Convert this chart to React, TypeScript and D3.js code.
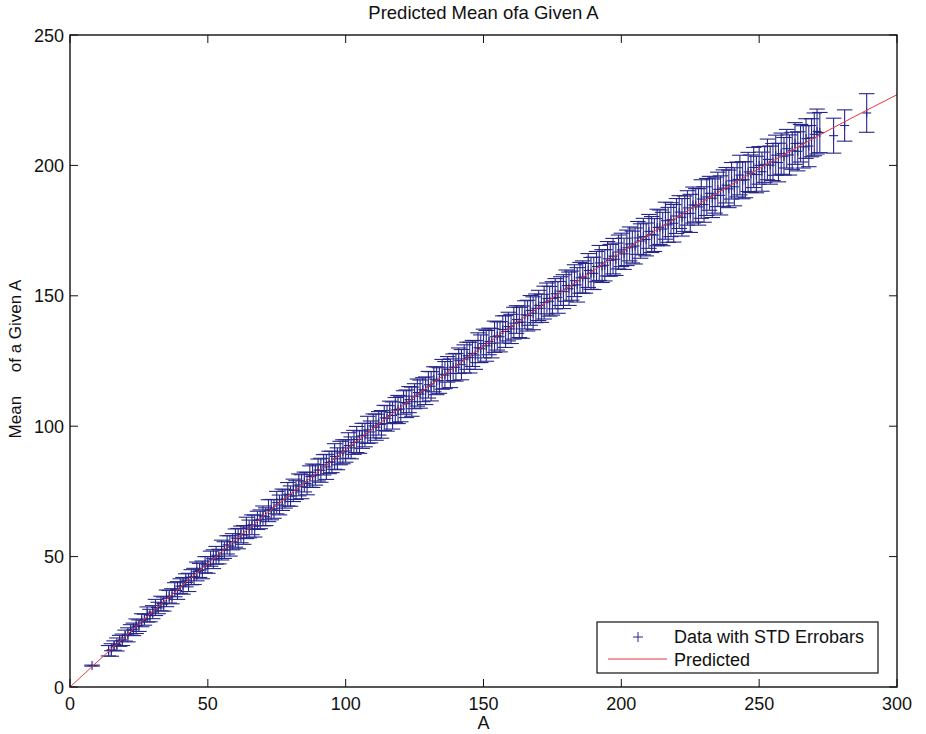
import React from 'react'
import * as d3 from 'd3'

// x (A) and y tick values
const xTicks = [0, 50, 100, 150, 200, 250, 300]
const yTicks = [0, 50, 100, 150, 200, 250]

// dense block of observations, one per integer A from 14 to 272
const denseA = d3.range(14, 273)
const denseMean = [
  13.9, 14.2, 15.9, 16.3, 17.7, 18.1,
  19.7, 20.0, 21.9, 22.1, 23.3, 23.5, 25.6, 25.8, 27.8, 27.4,
  28.7, 30.5, 30.3, 32.0, 31.8, 34.0, 34.6, 34.8, 37.3, 37.0,
  38.7, 38.8, 40.9, 40.1, 42.1, 42.4, 44.3, 44.7, 44.9, 46.9,
  46.8, 49.2, 49.0, 50.5, 50.0, 52.5, 52.5, 54.5, 54.1, 55.7,
  57.1, 56.9, 58.5, 58.3, 61.0, 60.6, 62.2, 61.7, 63.9, 64.3,
  65.6, 65.3, 67.6, 68.0, 68.3, 70.7, 69.8, 71.8, 72.1, 73.9,
  73.2, 75.4, 75.5, 77.5, 76.8, 78.6, 78.0, 80.7, 81.0, 81.3,
  83.2, 83.1, 85.2, 84.4, 86.1, 86.3, 88.4, 87.5, 89.7, 90.2,
  90.5, 92.6, 91.7, 93.8, 94.9, 93.9, 96.3, 96.6, 98.6, 97.8,
  100.1, 99.6, 101.1, 100.7, 103.2, 103.0, 105.3, 104.1, 106.2, 106.4,
  106.6, 109.1, 108.6, 110.2, 109.4, 111.5, 112.9, 112.3, 114.0, 113.6,
  115.9, 115.3, 118.0, 117.4, 117.5, 119.9, 119.6, 121.8, 120.3, 122.6,
  122.6, 125.1, 123.6, 125.8, 127.0, 126.3, 127.9, 127.3, 130.1, 129.7,
  131.7, 130.8, 132.5, 131.8, 134.3, 134.6, 134.3, 137.1, 136.3, 138.2,
  137.3, 139.5, 140.9, 139.8, 139.9, 142.7, 142.4, 144.4, 143.3, 145.2,
  146.3, 145.2, 147.4, 149.0, 147.9, 149.0, 150.8, 149.4, 151.8, 151.6,
  153.9, 152.7, 153.9, 155.8, 154.2, 156.9, 157.2, 156.7, 159.7, 158.6,
  158.6, 161.2, 162.6, 161.4, 161.7, 164.2, 163.6, 165.2, 164.0, 166.8,
  167.6, 166.1, 168.4, 169.9, 168.7, 169.1, 172.2, 171.0, 172.7, 171.6,
  174.7, 173.5, 173.3, 176.2, 176.3, 175.6, 178.8, 177.2, 179.2, 177.8,
  180.6, 182.1, 180.1, 181.5, 183.7, 181.6, 184.8, 184.7, 184.1, 187.1,
  185.0, 187.9, 189.3, 187.4, 188.6, 190.8, 188.5, 191.3, 192.4, 191.0,
  194.1, 191.8, 194.6, 196.3, 194.3, 194.5, 197.5, 196.8, 199.2, 196.5,
  200.0, 197.6, 200.4, 202.3, 200.1, 201.3, 203.9, 201.1, 204.5, 203.5,
  206.4, 204.0, 205.6, 208.4, 205.4, 208.5, 207.1, 210.3, 207.4, 210.6, 211.9, 213.0, 212.6,
]
const denseStd = [
  2.0, 2.4, 1.8, 2.5, 2.1, 2.2,
  2.1, 2.7, 2.0, 2.4, 2.8, 2.2, 2.5, 2.1, 2.9, 2.4,
  2.5, 3.1, 2.2, 2.8, 2.7, 3.2, 2.4, 2.9, 2.7, 3.4,
  2.8, 3.2, 2.5, 3.5, 2.9, 3.1, 3.6, 2.7, 3.4, 3.1,
  3.2, 2.9, 3.6, 3.4, 2.8, 3.8, 3.2, 3.5, 3.9, 3.1,
  3.5, 3.9, 3.2, 3.6, 4.1, 3.4, 3.8, 4.2, 3.5, 3.6,
  3.8, 3.4, 4.2, 3.9, 3.6, 4.3, 3.8, 4.1, 3.5, 4.5,
  3.9, 4.3, 3.6, 4.2, 4.6, 3.8, 4.3, 4.1, 4.5, 3.9,
  4.2, 4.6, 3.9, 4.8, 4.3, 4.1, 4.9, 4.2, 4.5, 4.6,
  4.3, 4.9, 4.2, 4.6, 5.0, 4.3, 4.8, 4.5, 5.2, 4.2,
  4.6, 5.0, 4.5, 5.3, 4.8, 4.9, 4.3, 5.2, 4.8, 5.4,
  4.9, 4.5, 5.3, 5.0, 5.6, 4.8, 5.2, 5.4, 4.6, 5.3,
  5.1, 5.6, 4.8, 5.3, 4.9, 5.7, 5.2, 4.9, 5.5, 5.1,
  5.3, 4.9, 5.8, 5.4, 5.2, 5.9, 5.0, 5.5, 5.7, 5.3,
  5.5, 5.9, 5.1, 5.6, 6.0, 5.4, 5.8, 5.2, 6.1, 5.5,
  5.6, 6.1, 5.3, 5.8, 6.2, 5.4, 5.9, 5.7, 6.3, 5.5,
  5.8, 5.4, 6.3, 5.9, 5.7, 6.4, 5.8, 6.1, 5.5, 6.5,
  6.0, 6.4, 5.6, 6.1, 6.6, 5.9, 6.2, 5.7, 6.5, 6.1,
  6.2, 5.8, 6.7, 6.3, 6.0, 6.6, 6.1, 6.8, 6.2, 6.5,
  6.4, 6.0, 6.8, 6.5, 6.1, 6.9, 6.3, 6.6, 7.0, 6.3,
  6.5, 6.9, 6.3, 7.0, 6.6, 6.4, 7.1, 6.7, 6.5, 7.2,
  6.7, 6.3, 7.2, 6.8, 6.6, 7.3, 6.9, 6.4, 7.0, 7.4,
  6.8, 7.1, 6.5, 7.4, 6.9, 6.6, 7.5, 7.0, 6.8, 7.2,
  7.0, 7.3, 6.7, 7.6, 7.1, 6.9, 7.5, 7.2, 7.7, 7.0,
  7.2, 7.5, 6.9, 7.8, 7.3, 7.1, 7.7, 7.4, 7.9, 7.2,
  7.4, 7.7, 7.1, 8.0, 7.5, 7.2, 8.1, 7.6, 7.9, 7.3, 8.2, 8.6, 7.7,
]

// isolated observations
const sparseA = [8, 277, 281, 289]
const sparseMean = [8.2, 211.4, 215.3, 220.1]
const sparseStd = [0.2, 6.7, 6.0, 7.4]

// fitted curve
const predA = [0, 25, 50, 75, 100, 125, 150, 175, 200, 225, 250, 275, 300]
const predMean = [0, 24.2, 47.4, 69.7, 91.0, 111.3, 130.7, 149.2, 166.7, 183.2, 198.8, 213.4, 227.1]

const W = 926
const H = 734
const left = 70
const right = 897
const top = 35
const bottom = 687

const font = '"Liberation Sans", Arial, Helvetica, sans-serif'
const blue = '#26268a'
const red = '#e8373b'

type Pt = { a: number; m: number; s: number }

const App = () => {
  const x = d3.scaleLinear().domain([0, 300]).range([left, right])
  const y = d3.scaleLinear().domain([0, 250]).range([bottom, top])

  const points: Pt[] = [
    ...denseA.map((a, i) => ({ a, m: denseMean[i], s: denseStd[i] })),
    ...sparseA.map((a, i) => ({ a, m: sparseMean[i], s: sparseStd[i] })),
  ]
  // cap half-width: 1% of A's range, as the plotting tool does
  const [aMin, aMax] = d3.extent(points, d => d.a) as [number, number]
  const tee = (aMax - aMin) / 100

  const line = d3.line<number>()
    .x((_, i) => x(predA[i]))
    .y(d => y(d))
    .curve(d3.curveMonotoneX)

  const tick = 8
  const mk = 4.5

  return (
    <svg width={W} height={H} style={{ position: 'absolute', left: 0, top: 0, background: '#fff' }}
      fontFamily={font}>
      <rect x={0} y={0} width={W} height={H} fill="#fff" />

      {/* error bars */}
      <g stroke={blue} strokeWidth={1.1} fill="none">
        {points.map((p, i) => {
          const cx = x(p.a)
          const y0 = y(p.m - p.s)
          const y1 = y(p.m + p.s)
          const cy = y(p.m)
          const c0 = x(p.a - tee)
          const c1 = x(p.a + tee)
          return (
            <g key={i}>
              <line x1={cx} x2={cx} y1={y0} y2={y1} />
              <line x1={c0} x2={c1} y1={y0} y2={y0} />
              <line x1={c0} x2={c1} y1={y1} y2={y1} />
              <line x1={cx - mk} x2={cx + mk} y1={cy} y2={cy} />
              <line x1={cx} x2={cx} y1={cy - mk} y2={cy + mk} />
            </g>
          )
        })}
      </g>

      <defs>
        <clipPath id="plotClip">
          <rect x={left} y={top} width={right - left} height={bottom - top} />
        </clipPath>
      </defs>
      <path d={line(predMean) ?? ''} fill="none" stroke={red} strokeWidth={1} clipPath="url(#plotClip)" />

      {/* frame */}
      <rect x={left} y={top} width={right - left} height={bottom - top} fill="none" stroke="#111" strokeWidth={1.4} />

      {/* ticks, pointing inward on all four sides */}
      <g stroke="#111" strokeWidth={1}>
        {xTicks.map(t => (
          <g key={'x' + t}>
            <line x1={x(t)} x2={x(t)} y1={bottom} y2={bottom - tick} />
            <line x1={x(t)} x2={x(t)} y1={top} y2={top + tick} />
          </g>
        ))}
        {yTicks.map(t => (
          <g key={'y' + t}>
            <line x1={left} x2={left + tick} y1={y(t)} y2={y(t)} />
            <line x1={right} x2={right - tick} y1={y(t)} y2={y(t)} />
          </g>
        ))}
      </g>
      <g fontSize={18} fill="#111">
        {xTicks.map(t => (
          <text key={'xl' + t} x={x(t)} y={bottom + 23} textAnchor="middle">{t}</text>
        ))}
        {yTicks.map(t => (
          <text key={'yl' + t} x={left - 6} y={y(t) + 6.5} textAnchor="end">{t}</text>
        ))}
      </g>

      {/* titles */}
      <text x={(left + right) / 2} y={19} textAnchor="middle" fontSize={18.5} fill="#111">Predicted Mean ofa Given A</text>
      <text x={(left + right) / 2} y={729} textAnchor="middle" fontSize={18} fill="#111">A</text>
      <text transform={`translate(21,${(top + bottom) / 2 - 2}) rotate(-90)`} textAnchor="middle" fontSize={17} fill="#111"
        style={{ whiteSpace: 'pre' }}>{'Mean     of a Given A'}</text>

      {/* legend */}
      <g>
        <rect x={597} y={622} width={281} height={51} fill="#fff" stroke="#111" strokeWidth={1.2} />
        <line x1={638 - 5} x2={638 + 5} y1={637} y2={637} stroke={blue} strokeWidth={1} />
        <line x1={638} x2={638} y1={632} y2={642} stroke={blue} strokeWidth={1} />
        <text x={674} y={643} fontSize={18} fill="#111">Data with STD Errobars</text>
        <line x1={608} x2={667} y1={659} y2={659} stroke={red} strokeWidth={1} />
        <text x={674} y={666} fontSize={18} fill="#111">Predicted</text>
      </g>
    </svg>
  )
}

export default App
